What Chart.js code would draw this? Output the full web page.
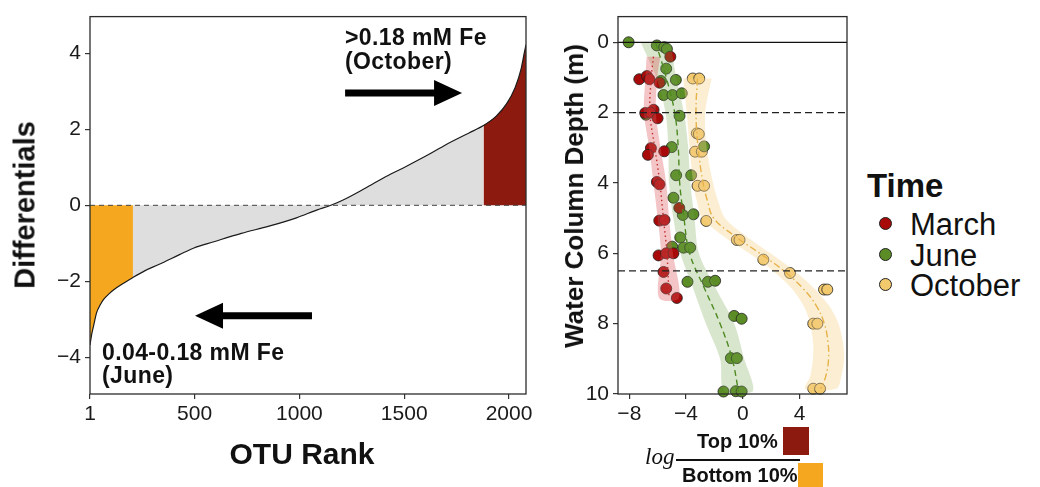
<!DOCTYPE html>
<html>
<head>
<meta charset="utf-8">
<title>OTU differentials and depth profiles</title>
<script src="https://cdn.jsdelivr.net/npm/chart.js@4.4.1/dist/chart.umd.min.js"></script>
<style>
  html, body { margin: 0; padding: 0; background: #fff; }
  #figure { position: relative; width: 1040px; height: 487px; overflow: hidden;
            font-family: "Liberation Sans", Arial, Helvetica, sans-serif; color: #111; }
  canvas { position: absolute; top: 0; }
  #rank-chart { left: 0; }
  #depth-chart { left: 545px; }
  .label { position: absolute; white-space: nowrap; line-height: 1; }
  .mid { transform: translate(-50%, -50%); }
  .left { transform: translate(0, -50%); }
  .up { transform: translate(-50%, -50%) rotate(-90deg); }
  .axis-title { font-weight: bold; }
  .note { font-weight: bold; font-size: 23px; letter-spacing: 0.4px; }
  .swatch { position: absolute; }
</style>
</head>
<body>
<div id="figure">
  <canvas id="rank-chart" width="540" height="487"></canvas>
  <canvas id="depth-chart" width="315" height="430"></canvas>

  <div class="label axis-title up" style="left:25px; top:205px; font-size:29px;">Differentials</div>
  <div class="label axis-title mid" style="left:302px; top:454px; font-size:30px;">OTU Rank</div>
  <div class="label axis-title up" style="left:574px; top:196px; font-size:26px;">Water Column Depth (m)</div>

  <div class="label note left" style="left:345px; top:37px;">&gt;0.18 mM Fe</div>
  <div class="label note left" style="left:345px; top:61px;">(October)</div>
  <div class="label note left" style="left:102px; top:352px;">0.04-0.18 mM Fe</div>
  <div class="label note left" style="left:102px; top:375px;">(June)</div>

  <div id="legend"></div>
  <div id="ratio"></div>
</div>

<script>
// ---- Left panel: ranked OTU differentials ----
const otuRank = [1, 9, 17, 33, 50, 66, 90, 116, 165, 206, 264, 329, 428, 494, 592, 723, 855, 986,
                 1085, 1150, 1216, 1314, 1413, 1511, 1627, 1709, 1807, 1878, 1939, 1988, 2029, 2057, 2073, 2081];
const differential = [-3.68, -3.4, -3.2, -2.82, -2.62, -2.48, -2.34, -2.22, -2.04, -1.9, -1.72, -1.56, -1.3, -1.13,
                      -0.96, -0.74, -0.55, -0.33, -0.12, 0, 0.16, 0.45, 0.76, 1.03, 1.37, 1.63, 1.9, 2.1, 2.35,
                      2.67, 3.1, 3.58, 4.02, 4.23];
const bottomCut = 206;   // last rank of the bottom 10%
const topCut = 1878;     // first rank of the top 10%
const rankTicks = [1, 500, 1000, 1500, 2000];
const diffTicks = [-4, -2, 0, 2, 4];

// ---- Right panel: depth profiles ----
const seriesNames = ['March', 'June', 'October'];

const marchValue = [-5.11, -7.30, -6.76, -6.59, -5.87, -6.88, -6.29, -6.52, -6.01, -6.48, -6.69, -5.54, -6.06, -5.87,
                    -4.48, -5.89, -5.52, -5.94, -5.40, -4.89, -5.59, -5.40, -4.65];
const marchDepth = [0.41, 1.05, 0.96, 1.05, 1.15, 2.01, 1.92, 2.0, 2.16, 3.01, 3.2, 3.1, 3.97, 4.04,
                    4.71, 5.07, 5.05, 6.06, 6.0, 6.0, 6.53, 7.0, 7.27];

const juneValue = [-8.05, -6.06, -5.54, -5.35, -5.40, -5.77, -4.72, -5.59, -4.96, -4.30, -6.83, -4.46, -5.01, -2.73,
                   -4.70, -3.64, -4.89, -4.23, -3.48, -4.41, -4.98, -4.18, -3.71, -3.90, -2.46, -1.95, -0.61, -0.08,
                   -0.84, -0.42, -1.36, -0.49, -0.08];
const juneDepth = [0.0, 0.09, 0.14, 0.19, 0.75, 1.1, 1.07, 1.5, 1.5, 1.45, 2.06, 2.09, 2.98, 2.96,
                   3.78, 3.78, 4.42, 4.91, 4.89, 5.55, 5.81, 5.84, 5.84, 6.81, 6.81, 6.78, 7.78, 7.86,
                   8.98, 8.98, 9.93, 9.92, 9.93];

const octoberValue = [-3.53, -3.07, -3.24, -3.10, -3.36, -2.89, -3.19, -2.73, -2.58, -0.42, -0.23, 1.45, 3.33,
                      5.73, 5.96, 4.97, 5.26, 4.97, 5.45];
const octoberDepth = [1.03, 1.03, 2.59, 2.61, 3.11, 3.11, 4.08, 4.08, 5.08, 5.62, 5.62, 6.18, 6.56,
                      7.03, 7.03, 8.0, 8.0, 9.85, 9.85];

// smoothed fits (centre line) and half-width of their confidence bands
const marchFitDepth = [0.41, 1, 2, 3, 4, 5, 6, 7.27];
const marchFit = [-6.3, -6.45, -6.55, -6.2, -5.85, -5.6, -5.35, -5.2];
const marchBand = [0.48, 0.42, 0.42, 0.4, 0.45, 0.4, 0.42, 0.7];

const juneFitDepth = [0, 1, 2, 3, 4, 5, 6, 7, 8, 9, 9.93];
const juneFit = [-6.15, -5.4, -4.8, -4.55, -4.45, -4.15, -3.75, -2.7, -1.6, -0.75, -0.3];
const juneBand = [1.05, 0.7, 0.65, 0.7, 0.75, 0.75, 0.65, 0.8, 1.0, 0.85, 1.0];

const octoberFitDepth = [1.03, 2, 3, 4, 4.5, 5, 5.5, 6, 6.5, 7, 7.5, 8, 8.5, 9, 9.5, 9.85];
const octoberFit = [-3.2, -3.3, -3.15, -2.8, -2.5, -2.05, -0.6, 1.2, 2.9, 4.25, 5.2, 5.75, 6.0, 6.05, 5.85, 5.5];
const octoberBand = [1.0, 0.65, 0.6, 0.7, 0.75, 0.8, 0.8, 0.75, 0.75, 0.8, 0.9, 1.0, 1.05, 1.1, 1.1, 1.1];

const depthTicks = [0, 2, 4, 6, 8, 10];
const valueTicks = [-8, -4, 0, 4];
const depthRefSolid = [0];
const depthRefDashed = [2, 6.5];

// ---- Styling ----
const pointColors = ['#A80A0A', '#5B8C25', '#F2C96C'];
const lineColors = ['#C2302B', '#4E8A22', '#E6B24A'];
const ribbonColors = ['rgba(222, 88, 92, 0.35)', 'rgba(120, 165, 80, 0.28)', 'rgba(248, 210, 140, 0.38)'];
const lineDashes = [[1.5, 3], [6, 4], [7, 3, 1.5, 3]];
const topColor = '#8C1A0F';
const bottomColor = '#F5A81F';
const middleColor = '#DEDEDE';

const tickFont = { family: '"Liberation Sans", Arial, sans-serif', size: 21 };
const minus = v => String(v).replace('-', '\u2212');

function setTicks(values) {
    return scale => { scale.ticks = values.map(v => ({ value: v })); };
}

function axis(min, max, values, size, isX) {
    return {
        type: 'linear', min: min, max: max,
        afterBuildTicks: setTicks(values),
        afterFit: s => { if (isX) s.height = size; else s.width = size; },
        grid: { drawOnChartArea: false, drawTicks: true, tickLength: 5, color: '#333', lineWidth: 1.2 },
        border: { display: false },
        ticks: { font: tickFont, color: '#1a1a1a', padding: isX ? 3 : 4, autoSkip: false, maxRotation: 0, callback: minus }
    };
}

// frame + reference lines + arrows, drawn on top of the data
function framePlugin(extra) {
    return {
        id: 'panelFrame',
        afterDatasetsDraw(chart) {
            const { ctx, chartArea: a } = chart;
            ctx.save();
            extra(chart, ctx, a);
            ctx.setLineDash([]);
            ctx.strokeStyle = '#2b2b2b';
            ctx.lineWidth = 1.3;
            ctx.strokeRect(a.left, a.top, a.right - a.left, a.bottom - a.top);
            ctx.restore();
        }
    };
}

function hLine(ctx, a, y, dash, color, width) {
    ctx.setLineDash(dash);
    ctx.strokeStyle = color;
    ctx.lineWidth = width;
    ctx.beginPath();
    ctx.moveTo(a.left, y);
    ctx.lineTo(a.right, y);
    ctx.stroke();
}

function arrow(ctx, x0, x1, y, shaft, headLen, headHalf) {
    const dir = Math.sign(x1 - x0);
    const hx = x1 - dir * headLen;
    ctx.fillStyle = '#000';
    ctx.beginPath();
    ctx.moveTo(x0, y - shaft / 2);
    ctx.lineTo(hx, y - shaft / 2);
    ctx.lineTo(hx, y - headHalf);
    ctx.lineTo(x1, y);
    ctx.lineTo(hx, y + headHalf);
    ctx.lineTo(hx, y + shaft / 2);
    ctx.lineTo(x0, y + shaft / 2);
    ctx.closePath();
    ctx.fill();
}

// arrow annotations in data units (rank from, rank to, differential)
const arrowNotes = [[1218, 1776, 2.96], [1060, 502, -2.91]];

const curve = otuRank.map((r, i) => ({ x: r, y: differential[i] }));

function areaSet(points, color) {
    return {
        data: points, fill: 'origin', backgroundColor: color,
        borderColor: 'rgba(0,0,0,0)', borderWidth: 0, pointRadius: 0,
        cubicInterpolationMode: 'monotone', order: 1
    };
}

new Chart(document.getElementById('rank-chart'), {
    type: 'line',
    data: {
        datasets: [
            { data: curve, borderColor: '#1a1a1a', borderWidth: 1.2, pointRadius: 0, fill: false,
              cubicInterpolationMode: 'monotone', order: 0 },
            areaSet(curve.filter(p => p.x <= bottomCut), bottomColor),
            areaSet(curve.filter(p => p.x >= bottomCut && p.x <= topCut), middleColor),
            areaSet(curve.filter(p => p.x >= topCut), topColor)
        ]
    },
    options: {
        responsive: false, animation: false, events: [],
        layout: { padding: { top: 13, right: 14, left: 0, bottom: 0 } },
        plugins: { legend: { display: false }, tooltip: { enabled: false } },
        scales: {
            x: axis(1, 2081, rankTicks, 93, true),
            y: axis(-4.97, 4.97, diffTicks, 90, false)
        }
    },
    plugins: [framePlugin((chart, ctx, a) => {
        const sx = chart.scales.x, sy = chart.scales.y;
        hLine(ctx, a, sy.getPixelForValue(0), [5, 4], '#444', 1);
        arrowNotes.forEach(n => {
            arrow(ctx, sx.getPixelForValue(n[0]), sx.getPixelForValue(n[1]), sy.getPixelForValue(n[2]), 7, 28, 13);
        });
    })]
});

// ---- Right chart ----
const profiles = [
    { values: marchValue, depths: marchDepth, fitDepth: marchFitDepth, fit: marchFit, band: marchBand },
    { values: juneValue, depths: juneDepth, fitDepth: juneFitDepth, fit: juneFit, band: juneBand },
    { values: octoberValue, depths: octoberDepth, fitDepth: octoberFitDepth, fit: octoberFit, band: octoberBand }
];

const depthSets = [];
profiles.forEach((p, i) => {
    depthSets.push({
        label: seriesNames[i],
        data: p.values.map((v, k) => ({ x: v, y: p.depths[k] })),
        showLine: false, pointRadius: 5.5, pointBackgroundColor: pointColors[i],
        pointBorderColor: '#1f1f1f', pointBorderWidth: 0.8, clip: 8, order: 3
    });
    const right = p.fitDepth.map((d, k) => ({ x: p.fit[k] + p.band[k], y: d }));
    const left = p.fitDepth.map((d, k) => ({ x: p.fit[k] - p.band[k], y: d })).reverse();
    depthSets.push({
        data: right.concat(left), showLine: true, fill: 'shape', backgroundColor: ribbonColors[i],
        borderColor: 'rgba(0,0,0,0)', borderWidth: 0, pointRadius: 0, tension: 0.3, order: 2
    });
    depthSets.push({
        data: p.fitDepth.map((d, k) => ({ x: p.fit[k], y: d })), showLine: true, fill: false,
        borderColor: lineColors[i], borderWidth: 1.4, borderDash: lineDashes[i], pointRadius: 0,
        tension: 0.4, order: 1
    });
});

const depthY = axis(-0.73, 10, depthTicks, 73, false);
depthY.reverse = true;

new Chart(document.getElementById('depth-chart'), {
    type: 'line',
    data: { datasets: depthSets },
    options: {
        responsive: false, animation: false, events: [],
        layout: { padding: { top: 13, right: 13, left: 0, bottom: 0 } },
        plugins: { legend: { display: false }, tooltip: { enabled: false } },
        scales: {
            x: axis(-8.8, 7.35, valueTicks, 36, true),
            y: depthY
        }
    },
    plugins: [framePlugin((chart, ctx, a) => {
        const sy = chart.scales.y;
        depthRefSolid.forEach(d => hLine(ctx, a, sy.getPixelForValue(d), [], '#111', 1.2));
        depthRefDashed.forEach(d => hLine(ctx, a, sy.getPixelForValue(d), [7, 4], '#222', 1.3));
    })]
});

// ---- Legend ----
const legend = document.getElementById('legend');
let html = '<div class="label left" style="left:867px; top:185px; font-weight:bold; font-size:33px;">Time</div>';
seriesNames.forEach((name, i) => {
    const y = 223 + i * 30.5;
    html += '<div class="swatch" style="left:879px; top:' + (y - 6) + 'px; width:11px; height:11px; border-radius:50%;' +
            ' background:' + pointColors[i] + '; border:1px solid #222;"></div>';
    html += '<div class="label left" style="left:910px; top:' + (y + 1) + 'px; font-size:31px;">' + name + '</div>';
});
legend.innerHTML = html;

// ---- log(Top/Bottom) key under the depth panel ----
document.getElementById('ratio').innerHTML =
    '<div class="label" style="left:645px; top:445px; font-family:\'Liberation Serif\', serif; font-style:italic; font-size:23px;">log</div>' +
    '<div class="swatch" style="left:676px; top:459px; width:124px; height:1.5px; background:#111;"></div>' +
    '<div class="label left" style="left:697px; top:441px; font-weight:bold; font-size:20px;">Top 10%</div>' +
    '<div class="swatch" style="left:783px; top:427px; width:26px; height:28px; background:' + topColor + ';"></div>' +
    '<div class="label left" style="left:682px; top:475px; font-weight:bold; font-size:20px;">Bottom 10%</div>' +
    '<div class="swatch" style="left:798px; top:463px; width:25px; height:26px; background:' + bottomColor + ';"></div>';
</script>
</body>
</html>
